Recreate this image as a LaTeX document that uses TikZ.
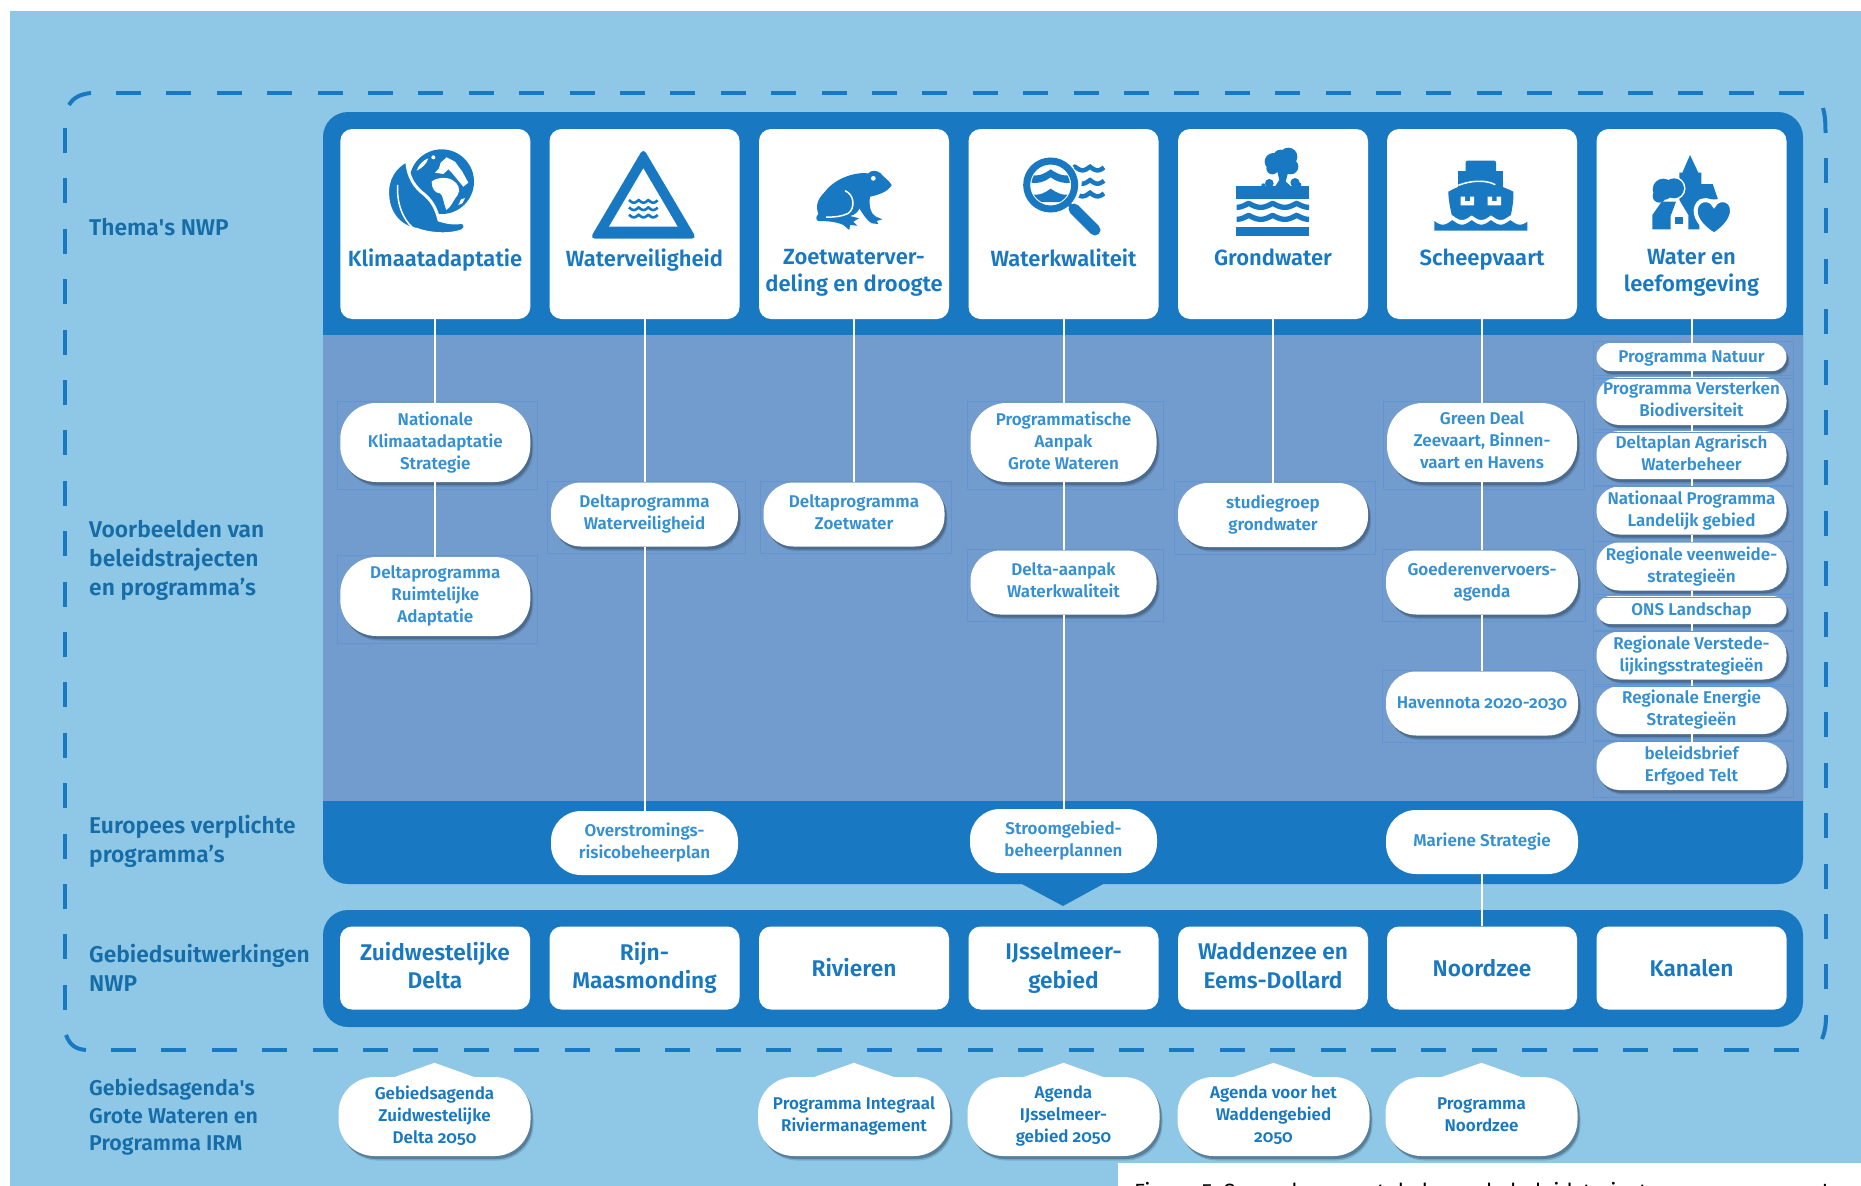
\documentclass[tikz,border=0pt]{standalone}
\usepackage{fontspec}
\setmainfont{Fira Sans}[UprightFont=* SemiBold,BoldFont=* Bold,Numbers=OldStyle]
\newfontfamily\plainfont{Fira Sans}
\usetikzlibrary{calc,fit,shadows}
\definecolor{sky}{HTML}{8FC8E7}
\definecolor{deep}{HTML}{1879C2}
\definecolor{band}{HTML}{729CCD}
\definecolor{ghost}{HTML}{6195D2}
\definecolor{labelblue}{HTML}{156CA6}
\definecolor{pilltext}{HTML}{3590D2}
\definecolor{dusk}{HTML}{2F4A60}
\newcommand{\waveline}[7]{\draw[deep,line width=#5pt] plot[domain=#1:#2,samples=70] (\x,{#3+#4*abs(sin((\x-#7)/#6*180))});}
\newcommand{\linestrut}{\rule[-.18\baselineskip]{0pt}{\baselineskip}}
\tikzset{
  cardshape/.style={rectangle,fill=white,rounded corners=12pt,minimum width=190pt,inner sep=0pt},
  topcard/.style={cardshape,minimum height=190pt},
  lowcard/.style={cardshape,minimum height=83pt,text=deep,align=center,font=\fontsize{22.7}{28.5}\selectfont,
    execute at begin node=\linestrut,execute at end node=\linestrut},
  cardtitle/.style={anchor=north,inner sep=0pt,text=deep,align=center,font=\fontsize{22}{27.5}\selectfont},
  sidelabel/.style={anchor=west,inner sep=0pt,text=labelblue,align=left,font=\fontsize{22.8}{29}\selectfont},
  agendalabel/.style={anchor=west,inner sep=0pt,text=labelblue,align=left,font=\fontsize{21.4}{27.5}\selectfont},
  pill/.style={rectangle,fill=white,text=pilltext,align=center,minimum width=190pt,inner sep=0pt,
    font=\fontsize{17}{22}\selectfont,execute at begin node=\linestrut,execute at end node=\linestrut,
    drop shadow={shadow xshift=3pt,shadow yshift=-4.5pt,opacity=.22,fill=dusk},
    drop shadow={shadow xshift=2pt,shadow yshift=-3pt,opacity=.45,fill=dusk}},
  pilltall/.style={pill,minimum height=79pt,rounded corners=36pt},
  pillmid/.style={pill,minimum height=64pt,rounded corners=30pt},
  pillsmall/.style={pill,minimum height=48pt,rounded corners=23pt},
  pilltiny/.style={pill,minimum height=28pt,rounded corners=14pt},
  agenda/.style={pilltall,text=deep,minimum width=192pt},
  flat/.style={rectangle,fill=white,text=pilltext,align=center,minimum width=189pt,minimum height=64pt,
    inner sep=0pt,rounded corners=30pt,font=\fontsize{17}{22}\selectfont,
    execute at begin node=\linestrut,execute at end node=\linestrut},
  link/.style={draw=white,line width=2pt},
  ghostbox/.style={draw=ghost,line width=.8pt,inner xsep=5pt,inner ysep=4pt,xshift=2pt,yshift=-3pt},
  dashside/.style={draw=deep,line width=4pt,dash pattern=on 25pt off 25.4pt},
  dashcorner/.style={draw=deep,line width=4pt}
}
\begin{document}
\begin{tikzpicture}[x=1pt,y=-1pt]
  \useasboundingbox (0,0) rectangle (1861,1186);
  \fill[sky] (10,11) rectangle (1861,1186);
  % dashed frame
  \draw[dashside] (116,93) -- (1806,93);
  \draw[dashside] (111,1050) -- (1808,1050);
  \draw[dashside] (65,128) -- (65,1010);
  \draw[dashside] (1825.5,158) -- (1825.5,990);
  \draw[dashcorner] (69,105) .. controls (73,98) and (80,94) .. (91,93);
  \draw[dashcorner] (66,1035) .. controls (70,1045) and (75,1049) .. (86,1050);
  \draw[dashcorner] (1823,108) .. controls (1825,115) and (1825.5,122) .. (1825.5,133);
  \draw[dashcorner] (1826,1015) .. controls (1826,1025) and (1825,1032) .. (1822,1039);
  % panels
  \fill[deep,rounded corners=25pt] (323,112) rectangle (1803,884);
  \fill[band] (323,335) rectangle (1803,801);
  \fill[deep] (1020,883) -- (1063,906) -- (1105,883) -- cycle;
  \fill[deep,rounded corners=25pt] (323,910) rectangle (1803,1027);
  % left labels
  \node[sidelabel] (lthema) at (89,227) {Thema\textquotesingle s NWP};
  \node[sidelabel] (lvoorbeeld) at (89,560.5) {Voorbeelden van\\beleidstrajecten\\en programma's};
  \node[sidelabel] (leuropa) at (89,841.5) {Europees verplichte\\programma's};
  \node[sidelabel] (lgebied) at (89,967.5) {Gebiedsuitwerkingen\\NWP};
  \node[agendalabel] (lagenda) at (89,1117) {Gebiedsagenda\textquotesingle s\\Grote Wateren en\\Programma IRM};
  % theme cards
  \node[topcard] (klimaat) at (435.3,224) {};
  \node[topcard] (veilig) at (644.5,224) {};
  \node[topcard] (zoet) at (854,224) {};
  \node[topcard] (kwaliteit) at (1063.5,224) {};
  \node[topcard] (grond) at (1273,224) {};
  \node[topcard] (schip) at (1482,224) {};
  \node[topcard] (leef) at (1691.5,224) {};
  \node[cardtitle] (tklimaat) at (435,249) {Klimaatadaptatie};
  \node[cardtitle] (tveilig) at (644.5,249) {Waterveiligheid};
  \node[cardtitle] (tzoet) at (854,249) {Zoetwaterver-\\deling en droogte};
  \node[cardtitle] (tkwaliteit) at (1063.5,249) {Waterkwaliteit};
  \node[cardtitle] (tgrond) at (1273,249) {Grondwater};
  \node[cardtitle] (tschip) at (1482,249) {Scheepvaart};
  \node[cardtitle] (tleef) at (1691.5,249) {Water en\\leefomgeving};
  % area cards
  \node[lowcard] (zwdelta) at (435,968) {Zuidwestelijke\\Delta};
  \node[lowcard] (rijn) at (644.5,968) {Rijn-\\Maasmonding};
  \node[lowcard] (rivieren) at (854,968) {\raisebox{1pt}{Rivieren}};
  \node[lowcard] (ijssel) at (1063.5,968) {IJsselmeer-\\gebied};
  \node[lowcard] (wadden) at (1273,968) {Waddenzee en\\Eems-Dollard};
  \node[lowcard] (noordzee) at (1482,968) {\raisebox{1pt}{Noordzee}};
  \node[lowcard] (kanalen) at (1691.5,968) {\raisebox{1pt}{Kanalen}};
  % programmes
  \node[pilltall] (nationale) at (435.3,442.5) {Nationale\\Klimaatadaptatie\\Strategie};
  \node[pilltall] (ruimte) at (435.3,596.5) {Deltaprogramma\\Ruimtelijke\\Adaptatie};
  \node[pillmid,minimum width=187pt] (dpveilig) at (644.5,514.5) {Deltaprogramma\\Waterveiligheid};
  \node[pillmid,minimum width=181pt] (dpzoet) at (854,514.5) {Deltaprogramma\\Zoetwater};
  \node[pilltall,minimum width=186pt] (grote) at (1063.5,442.5) {Programmatische\\Aanpak\\Grote Wateren};
  \node[pillmid,minimum width=186pt] (aanpak) at (1063.5,582.5) {Delta-aanpak\\Waterkwaliteit};
  \node[pillmid] (studie) at (1273,515) {studiegroep\\grondwater};
  \node[pilltall] (green) at (1482,442.5) {Green Deal\\Zeevaart, Binnen-\\vaart en Havens};
  \node[pillmid,minimum width=192pt] (goederen) at (1482,582.5) {Goederenvervoers-\\agenda};
  \node[pillmid,minimum width=192pt] (haven) at (1482,703.5) {\raisebox{2pt}{Havennota 2020-2030}};
  \node[pilltiny] (natuur) at (1691.5,357) {\raisebox{2pt}{Programma Natuur}};
  \node[pillsmall] (biodiv) at (1691.5,401) {Programma Versterken\\Biodiversiteit};
  \node[pillsmall] (agrarisch) at (1691.5,455) {Deltaplan Agrarisch\\Waterbeheer};
  \node[pillsmall] (landelijk) at (1691.5,510.5) {Nationaal Programma\\Landelijk gebied};
  \node[pillsmall] (veen) at (1691.5,566.5) {Regionale veenweide-\\strategie\"en};
  \node[pilltiny] (ons) at (1691.5,610) {\raisebox{2pt}{ONS Landschap}};
  \node[pillsmall] (verstede) at (1691.5,655.5) {Regionale Verstede-\\lijkingsstrategie\"en};
  \node[pillsmall] (energie) at (1691.5,710) {Regionale Energie\\Strategie\"en};
  \node[pillsmall] (erfgoed) at (1691.5,766) {beleidsbrief\\Erfgoed Telt};
  \foreach \a in {nationale,ruimte,dpveilig,dpzoet,grote,aanpak,studie,green,goederen,haven,natuur,biodiv,agrarisch,landelijk,veen,ons,verstede,energie,erfgoed}
    \node[ghostbox,fit=(\a)] (ghost\a) {};
  % european programmes
  \node[flat,minimum width=187pt] (overstroming) at (644.5,843) {Overstromings-\\risicobeheerplan};
  \node[flat,minimum width=187pt] (stroom) at (1063.5,841) {Stroomgebied-\\beheerplannen};
  \node[flat,minimum width=192pt] (mariene) at (1482,842) {\raisebox{2.5pt}{Mariene Strategie}};
  % agendas
  \node[agenda] (agzw) at (434.5,1116.5) {Gebiedsagenda\\Zuidwestelijke\\Delta 2050};
  \node[agenda] (agriv) at (854,1116.5) {Programma Integraal\\Riviermanagement};
  \node[agenda] (agijs) at (1063.5,1116.5) {Agenda\\IJsselmeer-\\gebied 2050};
  \node[agenda] (agwad) at (1273.5,1116.5) {Agenda voor het\\Waddengebied\\2050};
  \node[agenda] (agnz) at (1481.5,1116.5) {Programma\\Noordzee};
  \foreach \a in {agzw,agriv,agijs,agwad,agnz}
    \fill[white] ($(\a.north)+(-42,1)$) -- ($(\a.north)+(0,-14)$) -- ($(\a.north)+(42,1)$) -- cycle;
  % links
  \path (klimaat.south) edge[link] (nationale.north);
  \path (nationale.south) edge[link] (ruimte.north);
  \path (veilig.south) edge[link] (dpveilig.north);
  \path (dpveilig.south) edge[link] (overstroming.north);
  \path (zoet.south) edge[link] (dpzoet.north);
  \path (kwaliteit.south) edge[link] (grote.north);
  \path (grote.south) edge[link] (aanpak.north);
  \path (aanpak.south) edge[link] (stroom.north);
  \path (grond.south) edge[link] (studie.north);
  \path (schip.south) edge[link] (green.north);
  \path (green.south) edge[link] (goederen.north);
  \path (goederen.south) edge[link] (haven.north);
  \path (mariene.south) edge[link] (noordzee.north);
  \path (leef.south) edge[link] (natuur.north);
  \path (natuur.south) edge[link] (biodiv.north);
  \path (biodiv.south) edge[link] (agrarisch.north);
  \path (agrarisch.south) edge[link] (landelijk.north);
  \path (landelijk.south) edge[link] (veen.north);
  \path (veen.south) edge[link] (ons.north);
  \path (ons.south) edge[link] (verstede.north);
  \path (verstede.south) edge[link] (energie.north);
  \path (energie.south) edge[link] (erfgoed.north);
  % caption
  \fill[white] (1118,1163) rectangle (1861,1186);
  \begin{scope}
    \clip (1118,1163) rectangle (1861,1186);
    \node[anchor=north west,inner sep=0pt,font=\plainfont\fontsize{22}{28}\selectfont] (bijschrift) at (1134,1182) {Figuur 5\enspace Samenhang met de lopende beleidstrajecten en programma's};
  \end{scope}
  % icon: globe and leaf
  \begin{scope}[shift={(375,140)},scale=1/3]
    \fill[deep] (200,125) circle (97);
    \fill[white] (170,125) .. controls (185,112) and (215,110) .. (232,120) .. controls (250,130) and (258,150) .. (248,165) .. controls (235,180) and (230,200) .. (214,210) .. controls (205,190) and (205,165) .. (195,160) .. controls (180,160) and (170,145) .. cycle;
    \fill[white] (180,98) -- (192,85) -- (197,68) -- (215,52) -- (240,65) -- (262,95) -- (280,128) -- (265,140) -- (250,122) -- (232,100) -- (220,88) -- (205,102) -- cycle;
    \fill[white] (125,92) .. controls (130,75) and (145,60) .. (160,55) .. controls (155,72) and (140,85) .. cycle;
    \fill[white] (175,52) circle (6);
    \fill[white] (250,195) -- (258,178) -- (270,174) -- (262,190) -- cycle;
    \filldraw[fill=deep,draw=white,line width=3pt] (95,62) .. controls (60,80) and (35,115) .. (38,165) .. controls (40,220) and (75,262) .. (125,268) .. controls (170,285) and (230,285) .. (262,272) .. controls (275,265) and (272,246) .. (258,247) .. controls (235,252) and (205,245) .. (192,240) .. controls (185,215) and (178,190) .. (150,165) .. controls (118,140) and (100,115) .. cycle;
    \draw[white,line width=1.5pt] (68,135) .. controls (65,185) and (80,235) .. (115,265);
  \end{scope}
  % icon: warning triangle
  \begin{scope}[shift={(375,140)},scale=1/3]
    \fill[deep,rounded corners=5pt] (805,25) -- (965,296) -- (645,296) -- cycle;
    \fill[white] (805,85) -- (908,260) -- (702,260) -- cycle;
    \waveline{762}{848}{180}{8}{2.6}{29}{762}
    \waveline{762}{848}{202}{8}{2.6}{29}{762}
    \waveline{762}{848}{224}{8}{2.6}{29}{762}
  \end{scope}
  % icon: frog
  \begin{scope}[shift={(800,140)},scale=1/3]
    \fill[deep] (275,135) .. controls (265,118) and (250,112) .. (242,100) .. controls (232,90) and (212,90) .. (205,100) .. controls (165,95) and (105,115) .. (75,155) .. controls (55,175) and (45,195) .. (55,222) .. controls (47,230) and (47,240) .. (55,243) .. controls (80,243) and (110,245) .. (130,255) -- (148,270) -- (150,255) -- (172,257) -- (160,245) -- (177,235) -- (150,228) .. controls (165,225) and (175,215) .. (178,205) .. controls (190,225) and (200,240) .. (215,250) -- (235,252) -- (230,243) -- (247,238) -- (228,230) .. controls (215,225) and (205,200) .. (210,170) .. controls (235,165) and (265,155) .. cycle;
    \fill[white] (220,115) circle (7);
    \draw[white,line width=1.5pt] (135,152) .. controls (165,165) and (165,205) .. (145,220) .. controls (125,230) and (100,232) .. (78,231);
  \end{scope}
  % icon: magnifier
  \begin{scope}[shift={(800,140)},scale=1/3]
    \draw[deep,line width=7pt] (752,135) circle (72);
    \draw[deep,line width=4pt] (805,190) -- (822,207);
    \draw[deep,line width=11pt,line cap=round] (822,207) -- (885,270);
    \begin{scope}
      \clip (752,135) circle (58);
      \fill[deep] (690,105) .. controls (720,110) and (735,100) .. (752,88) .. controls (770,100) and (785,110) .. (815,105) -- (815,128) .. controls (790,132) and (770,125) .. (752,112) .. controls (735,125) and (715,132) .. (690,128) -- cycle;
      \fill[deep] (690,163) .. controls (720,168) and (735,158) .. (752,146) .. controls (770,158) and (785,168) .. (815,163) -- (815,186) -- (690,186) -- cycle;
    \end{scope}
    \waveline{822}{912}{80}{11}{4.5}{45}{825}
    \waveline{845}{912}{120}{11}{4.5}{45}{825}
    \waveline{838}{912}{158}{11}{4.5}{45}{825}
  \end{scope}
  % icon: ground with tree
  \begin{scope}[shift={(1220,140)},scale=1/3]
    \fill[deep] (48,138) rectangle (267,177);
    \fill[deep] (48,261) rectangle (267,288);
    \waveline{50}{267}{190}{12}{5.3}{72}{86}
    \waveline{50}{267}{226}{12}{5.3}{72}{86}
    \fill[deep] (160,65) circle (26) (205,50) circle (27) (212,80) circle (23) (157,85) circle (18) (182,52) circle (23) (185,75) circle (25);
    \fill[deep] (172,95) -- (205,95) -- (197,125) -- (215,140) -- (165,140) -- (178,120) -- cycle;
    \fill[deep] (148,130) circle (13) (130,136) circle (6) (225,128) circle (14) (238,134) circle (6);
    \draw[white,line width=1pt] (203,112) -- (212,137);
  \end{scope}
  % icon: ship
  \begin{scope}[shift={(1220,140)},scale=1/3]
    \fill[deep,rounded corners=2pt] (737,62) rectangle (828,100);
    \fill[deep] (715,93) rectangle (850,150);
    \fill[deep] (685,155) .. controls (720,135) and (760,125) .. (790,127) .. controls (820,130) and (850,140) .. (880,155) .. controls (882,180) and (875,220) .. (866,250) -- (702,250) .. controls (692,215) and (685,180) .. cycle;
    \draw[white,line width=1.5pt] (715,136) .. controls (750,122) and (795,118) .. (826,134);
    \fill[white] (722,170) -- (735,170) -- (735,183) -- (750,183) -- (750,170) -- (762,170) -- (762,196) -- (722,196) -- cycle;
    \fill[white] (803,170) -- (816,170) -- (816,183) -- (830,183) -- (830,170) -- (843,170) -- (843,196) -- (803,196) -- cycle;
    \fill[white] plot[domain=660:905,samples=80] (\x,{226+14*abs(sin((\x-697)/58*180))}) -- (905,262) -- (660,262) -- cycle;
    \fill[deep] plot[domain=643:922,samples=90] (\x,{240+14*abs(sin((\x-697)/58*180))}) -- (922,272) -- (643,272) -- cycle;
  \end{scope}
  % icon: village and heart
  \begin{scope}[shift={(1640,140)},scale=1/3]
    \fill[deep] (150,45) -- (175,98) -- (184,98) -- (184,132) -- (218,132) -- (234,178) -- (178,178) -- (178,268) -- (145,268) -- (145,225) -- (118,180) -- (118,98) -- (127,98) -- cycle;
    \draw[white,line width=3pt] (70,148) circle (32) (102,145) circle (30) (58,168) circle (20);
    \fill[deep] (70,148) circle (32) (102,145) circle (30) (58,168) circle (20);
    \fill[deep] (37,225) -- (65,185) -- (108,185) -- (92,228) -- (92,268) -- (37,268) -- cycle;
    \fill[white] (118,185) -- (145,228) -- (92,228) -- cycle;
    \fill[white] (92,228) rectangle (145,270);
    \fill[deep] (105,231) rectangle (130,252);
    \filldraw[fill=deep,draw=white,line width=4pt] (222,284) .. controls (195,268) and (165,240) .. (167,210) .. controls (170,175) and (210,172) .. (222,196) .. controls (234,172) and (275,175) .. (276,210) .. controls (277,240) and (248,268) .. cycle;
  \end{scope}
\end{tikzpicture}
\end{document}
